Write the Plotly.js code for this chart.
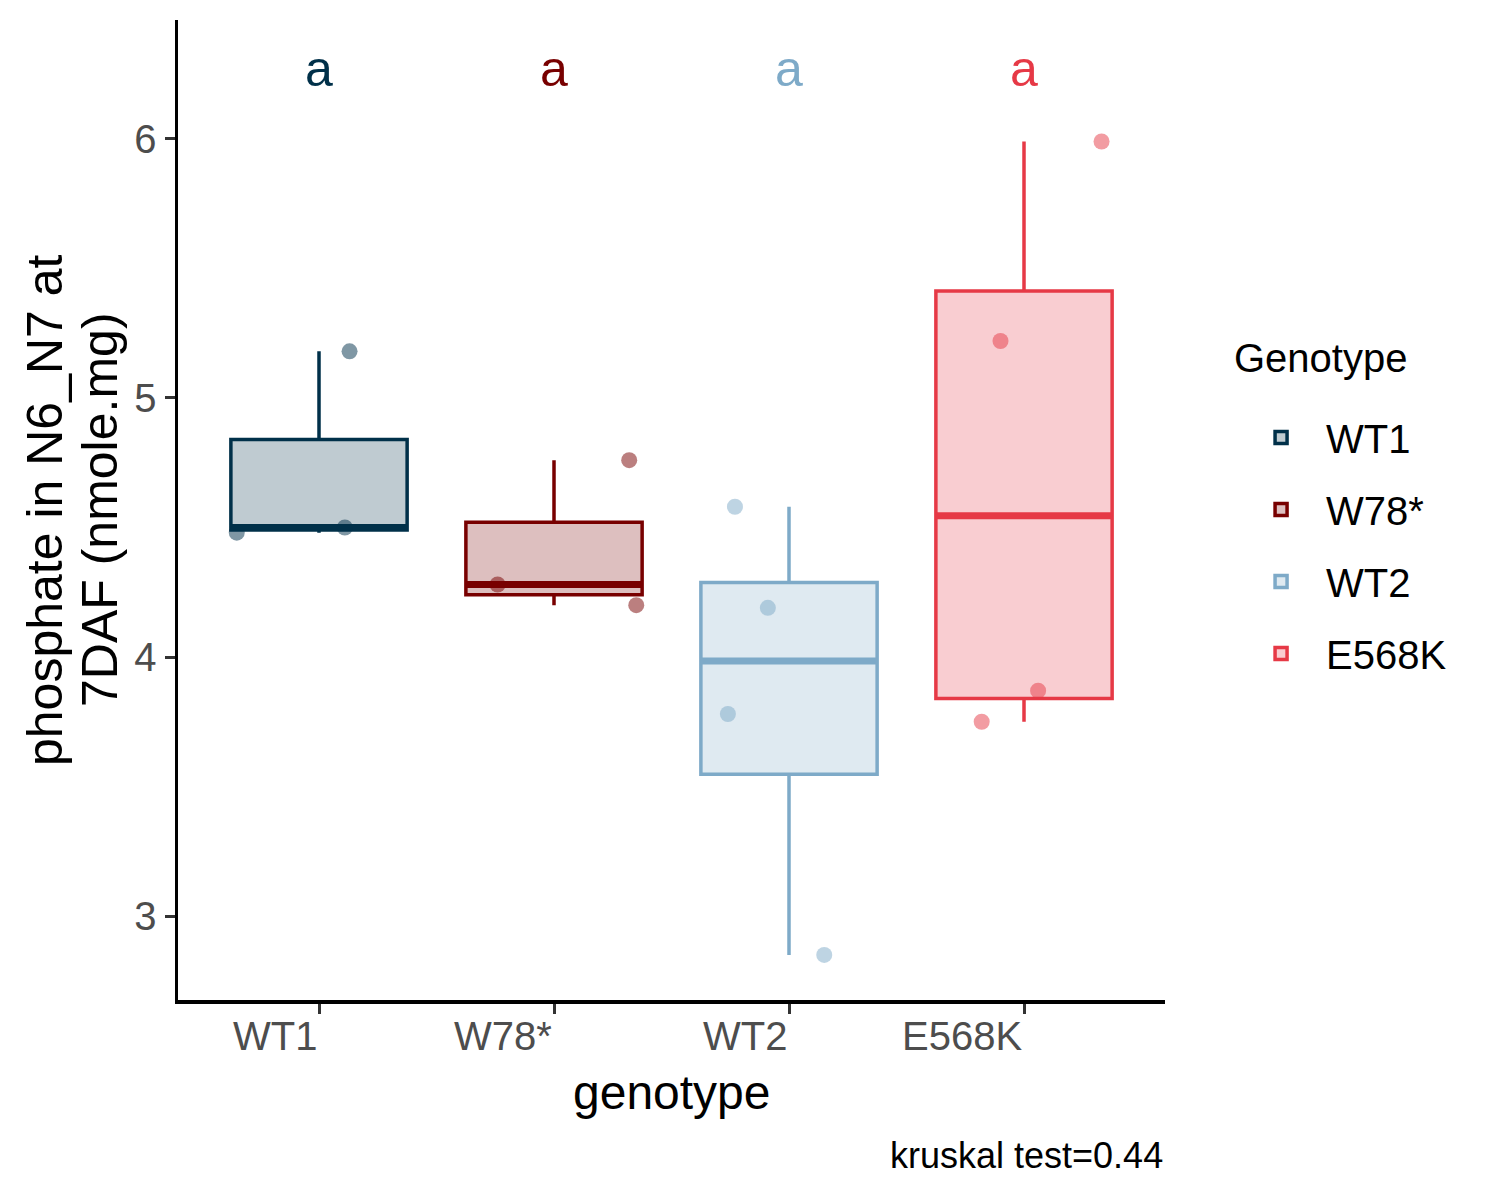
<!DOCTYPE html>
<html>
<head>
<meta charset="utf-8">
<script src="https://cdn.plot.ly/plotly-3.0.1.min.js"></script>
<style>
  body { margin: 0; background: #fff; }
  #plt { width: 1500px; height: 1200px; }
</style>
</head>
<body>
<div id="plt"></div>
<script>
// groups, in axis order
var genotypes = ['WT1', 'W78*', 'WT2', 'E568K'];
var colors = ['#003049', '#780000', '#7eaac8', '#e63946'];
var letters = ['a', 'a', 'a', 'a'];
var letterY = 6.27;

var wt1 = [4.48, 4.50, 5.18];
var w78 = [4.76, 4.28, 4.20];
var wt2 = [4.58, 4.19, 3.78, 2.85];
var e568k = [5.99, 5.22, 3.87, 3.75];
var jit_wt1 = [-0.35, 0.11, 0.13];
var jit_w78 = [0.32, -0.24, 0.35];
var jit_wt2 = [-0.23, -0.09, -0.26, 0.15];
var jit_e568k = [0.33, -0.10, 0.06, -0.18];

var yTicks = [3, 4, 5, 6];
var yTitle = ['phosphate in N6_N7 at', '7DAF (nmole.mg)'];
var caption = 'kruskal test=0.44';

var values = [wt1, w78, wt2, e568k];
var jitters = [jit_wt1, jit_w78, jit_wt2, jit_e568k];

var font = 'Arial, "Liberation Sans", sans-serif';
var boxWidth = 0.75;

function rgba(hex, a){
    let r = parseInt(hex.slice(1, 3), 16);
    let g = parseInt(hex.slice(3, 5), 16);
    let b = parseInt(hex.slice(5, 7), 16);
    return 'rgba(' + r + ',' + g + ',' + b + ',' + a + ')';
}

// R's default (type 7) quantile, which ggplot uses for the boxes
function quantile(arr, p){
    let s = arr.slice().sort((a, b) => a - b);
    let h = (s.length - 1) * p;
    let lo = Math.floor(h);
    if (lo + 1 >= s.length) return s[lo];
    return s[lo] + (h - lo) * (s[lo + 1] - s[lo]);
}

function stats(arr){
    let q1 = quantile(arr, 0.25);
    let q3 = quantile(arr, 0.75);
    let iqr = q3 - q1;
    let lo = Math.min(...arr.filter(v => v >= q1 - 1.5 * iqr));
    let hi = Math.max(...arr.filter(v => v <= q3 + 1.5 * iqr));
    return {q1: q1, med: quantile(arr, 0.5), q3: q3, lo: lo, hi: hi};
}

function plot(){
    let gd = document.getElementById('plt');
    let d = [];

    genotypes.forEach((g, i) => {
        let st = stats(values[i]);
        d.push({
            type: 'box',
            name: g,
            legendgroup: g,
            x: [i],
            q1: [st.q1], median: [st.med], q3: [st.q3],
            lowerfence: [st.lo], upperfence: [st.hi],
            width: boxWidth,
            whiskerwidth: 0,
            fillcolor: rgba(colors[i], 0.25),
            line: {color: colors[i], width: 3.5},
            hoverinfo: 'skip'
        });
        // thicker median bar, as ggplot draws it
        d.push({
            type: 'scatter',
            mode: 'lines',
            legendgroup: g,
            showlegend: false,
            x: [i - boxWidth / 2, i + boxWidth / 2],
            y: [st.med, st.med],
            line: {color: colors[i], width: 7},
            hoverinfo: 'skip'
        });
        d.push({
            type: 'scatter',
            mode: 'markers',
            legendgroup: g,
            showlegend: false,
            x: jitters[i].map(j => i + j),
            y: values[i],
            marker: {color: rgba(colors[i], 0.5), size: 16},
            hoverinfo: 'skip'
        });
    });

    let ann = [];
    genotypes.forEach((g, i) => {
        // tick labels, right aligned on the tick as in the source
        ann.push({
            x: i, y: 0, xref: 'x', yref: 'paper',
            xanchor: 'right', yanchor: 'top', yshift: -12,
            text: g, showarrow: false,
            font: {family: font, size: 40, color: '#4d4d4d'}
        });
        ann.push({
            x: i, y: letterY, xref: 'x', yref: 'y',
            xanchor: 'center', yanchor: 'middle',
            text: letters[i], showarrow: false,
            font: {family: font, size: 50, color: colors[i]}
        });
    });
    ann.push({
        x: 0.5, y: 0, xref: 'paper', yref: 'paper',
        xanchor: 'center', yanchor: 'top', yshift: -64,
        text: 'genotype', showarrow: false,
        font: {family: font, size: 48, color: '#000'}
    });
    ann.push({
        x: 1, y: 0, xref: 'paper', yref: 'paper',
        xanchor: 'right', yanchor: 'top', yshift: -133,
        text: caption, showarrow: false,
        font: {family: font, size: 36, color: '#000'}
    });
    // y title in two tight lines
    yTitle.forEach((t, k) => {
        ann.push({
            x: 0, y: 0.5, xref: 'paper', yref: 'paper',
            xanchor: 'center', yanchor: 'middle',
            xshift: k === 0 ? -133 : -78,
            textangle: -90,
            text: t, showarrow: false,
            font: {family: font, size: 50, color: '#000'}
        });
    });
    // legend title
    ann.push({
        x: 1.068, y: (1000 - 358) / 980, xref: 'paper', yref: 'paper',
        xanchor: 'left', yanchor: 'middle',
        text: 'Genotype', showarrow: false,
        font: {family: font, size: 40, color: '#000'}
    });

    let l = {
        width: 1500,
        height: 1200,
        margin: {l: 178, r: 335, t: 20, b: 200},
        paper_bgcolor: '#fff',
        plot_bgcolor: '#fff',
        font: {family: font, color: '#000'},
        showlegend: true,
        boxmode: 'overlay',
        xaxis: {
            type: 'linear',
            range: [-0.6, 3.6],
            tickvals: [0, 1, 2, 3],
            showticklabels: false,
            ticks: 'outside', ticklen: 10, tickwidth: 3, tickcolor: '#333',
            showline: true, linecolor: '#000', linewidth: 3.5,
            showgrid: false, zeroline: false
        },
        yaxis: {
            range: [2.676, 6.459],
            tickvals: yTicks,
            ticks: 'outside', ticklen: 10, tickwidth: 3, tickcolor: '#333',
            tickfont: {family: font, size: 40, color: '#4d4d4d'},
            showline: true, linecolor: '#000', linewidth: 3.5,
            showgrid: false, zeroline: false
        },
        legend: {
            x: 1.072, y: (1000 - 405) / 980, xanchor: 'left', yanchor: 'top',
            font: {family: font, size: 40, color: '#000'},
            tracegroupgap: 17,
            itemwidth: 80
        },
        annotations: ann
    };
    let c = {displayModeBar: false, staticPlot: true};

    Plotly.newPlot(gd, d, l, c);
}

plot();
</script>
</body>
</html>
